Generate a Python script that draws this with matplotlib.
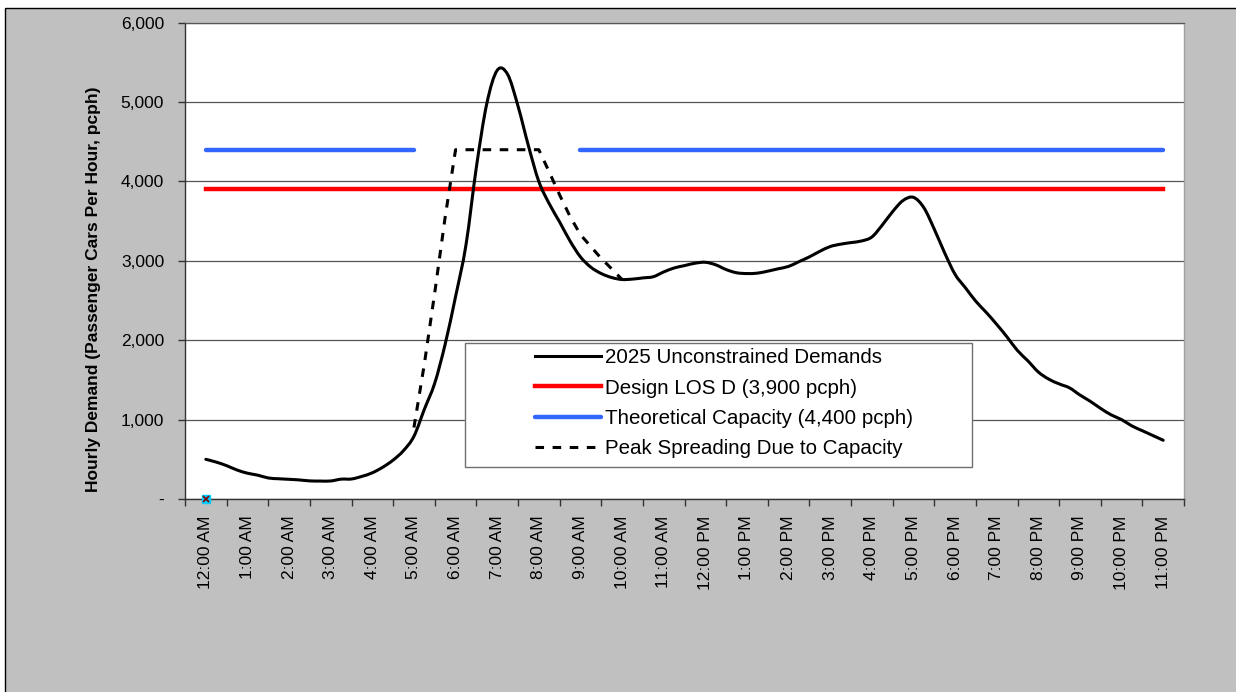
import numpy as np
import matplotlib
matplotlib.use("Agg")
import matplotlib.pyplot as plt
from matplotlib.patches import Rectangle, PathPatch
from matplotlib.path import Path
from matplotlib.lines import Line2D
from matplotlib.ticker import FuncFormatter

# Data (15-minute readings, hours after midnight)
# -------------------------------------------------------------------------
hour_labels = ["12:00 AM", "1:00 AM", "2:00 AM", "3:00 AM", "4:00 AM", "5:00 AM",
               "6:00 AM", "7:00 AM", "8:00 AM", "9:00 AM", "10:00 AM", "11:00 AM",
               "12:00 PM", "1:00 PM", "2:00 PM", "3:00 PM", "4:00 PM", "5:00 PM",
               "6:00 PM", "7:00 PM", "8:00 PM", "9:00 PM", "10:00 PM", "11:00 PM"]

demand_hours = np.arange(0, 23.01, 0.25)
demand = [500, 465, 420, 365,
          325, 300, 265, 255,
          248, 240, 228, 226,
          227, 250, 252, 285,
          330, 400, 490, 610,
          790, 1130, 1460, 1950,
          2550, 3200, 4180, 4980,
          5400, 5350, 4950, 4450,
          4000, 3720, 3490, 3250,
          3050, 2920, 2840, 2790,
          2765, 2770, 2785, 2800,
          2860, 2910, 2940, 2970,
          2982, 2950, 2890, 2850,
          2840, 2845, 2870, 2900,
          2930, 2990, 3050, 3120,
          3180, 3210, 3230, 3250,
          3300, 3450, 3620, 3760,
          3800, 3670, 3400, 3100,
          2830, 2660, 2490, 2350,
          2200, 2040, 1870, 1740,
          1600, 1510, 1450, 1400,
          1310, 1230, 1140, 1060,
          1000, 920, 860, 800,
          740]

spread_hours = np.arange(5, 10.01, 0.25)
spread = [900, 1700, 2600, 3550,
          4400, 4400, 4400, 4400, 4400, 4400, 4400, 4400, 4400,
          4120, 3830, 3560, 3330, 3180, 3030, 2900, 2765]

design_los = 3900
capacity = 4400
capacity_spans = [(0, 5), (9, 23)]

labels = ["2025 Unconstrained Demands", "Design LOS D (3,900 pcph)",
          "Theoretical Capacity (4,400 pcph)", "Peak Spreading Due to Capacity"]


def smooth_path(x, y):
    # Excel-style smoothed line: cubic Bezier through every point
    pts = np.column_stack([x, y]).astype(float)
    n = len(pts)
    verts, codes = [pts[0]], [Path.MOVETO]
    for i in range(n - 1):
        p0, p1 = pts[max(i - 1, 0)], pts[i]
        p2, p3 = pts[i + 1], pts[min(i + 2, n - 1)]
        verts += [p1 + (p2 - p0) / 6, p2 - (p3 - p1) / 6, p2]
        codes += [Path.CURVE4] * 3
    return Path(verts, codes)


# Figure
# -------------------------------------------------------------------------
plt.rcParams['font.family'] = ['Liberation Sans', 'DejaVu Sans']
W, H = 1236, 692
fig = plt.figure(figsize=(W / 100, H / 100), dpi=100, facecolor="white")
fig.patches.append(Rectangle((5 / W, -0.1), 1.2, 1.1 - 8 / H,
                             transform=fig.transFigure, facecolor="#C0C0C0",
                             edgecolor="black", linewidth=1, zorder=-10))

ax = fig.add_axes([185 / W, 1 - 499 / H, 999 / W, (499 - 22.7) / H])
ax.set_facecolor("white")

ax.add_patch(PathPatch(smooth_path(demand_hours, demand), fill=False,
                       edgecolor="black", lw=2.2, zorder=5, capstyle="round"))
l1 = Line2D([], [], color="black", lw=2.2)
l2, = ax.plot([0, 23], [design_los, design_los], color="#FF0000", lw=3.2, zorder=3)
for a, b in capacity_spans:
    l3, = ax.plot([a, b], [capacity, capacity], color="#3366FF", lw=3.2,
                  solid_capstyle="round", zorder=3)
l4, = ax.plot(spread_hours, spread, color="black", lw=2.2, dashes=(2.8, 2.8), zorder=4)
ax.plot([0], [0], marker="s", ms=6, mfc="#00CCFF", mec="#00CCFF", clip_on=False, zorder=6)
ax.plot([0], [0], marker="x", ms=5, mec="#800000", mew=1.2, clip_on=False, zorder=7)

ax.set_xlim(-0.5, 23.5)
ax.set_ylim(0, 6000)
ax.set_xticks(np.arange(-0.5, 23.6, 1))
ax.set_xticklabels([])
ax.set_xticks(np.arange(0, 24), minor=True)
ax.set_xticklabels(hour_labels, minor=True, rotation=90, fontsize=12.5, va="top")
ax.tick_params(axis="x", which="major", direction="out", length=5, width=1, color="#333333")
ax.tick_params(axis="x", which="minor", length=0, pad=12)

ax.set_yticks(np.arange(0, 6001, 1000))
ax.yaxis.set_major_formatter(FuncFormatter(lambda v, p: "-" if v == 0 else f"{v:,.0f}"))
ax.tick_params(axis="y", direction="out", length=5, width=1, color="#333333",
               labelsize=12.5, pad=10)
ax.grid(axis="y", color="#555555", lw=0.9)
ax.set_axisbelow(True)

for s in ["left", "bottom"]:
    ax.spines[s].set_color("#333333")
    ax.spines[s].set_linewidth(1)
ax.spines["top"].set_color("#555555")
ax.spines["top"].set_linewidth(0.9)
ax.spines["right"].set_color("#A0A0A0")
ax.spines["right"].set_linewidth(1)

ax.set_ylabel("Hourly Demand (Passenger Cars Per Hour, pcph)", fontsize=12.5,
              fontweight="bold")
ax.yaxis.set_label_coords(-0.084, 0.44)

# Legend box
# -------------------------------------------------------------------------
fig.patches.append(Rectangle((465 / W, 1 - 467 / H), (972 - 465) / W, (467 - 343) / H,
                             transform=fig.transFigure, facecolor="white",
                             edgecolor="#707070", linewidth=1, zorder=8))
leg = fig.legend([l1, l2, l3, l4], labels, loc="upper left",
                 bbox_to_anchor=(523 / W, 1 - 336 / H), frameon=False,
                 fontsize=14.8, handlelength=3.2, handletextpad=0.2,
                 labelspacing=0.55, borderpad=0.1)
leg.set_zorder(9)

fig.savefig("out.png", dpi=100, facecolor=fig.get_facecolor())
